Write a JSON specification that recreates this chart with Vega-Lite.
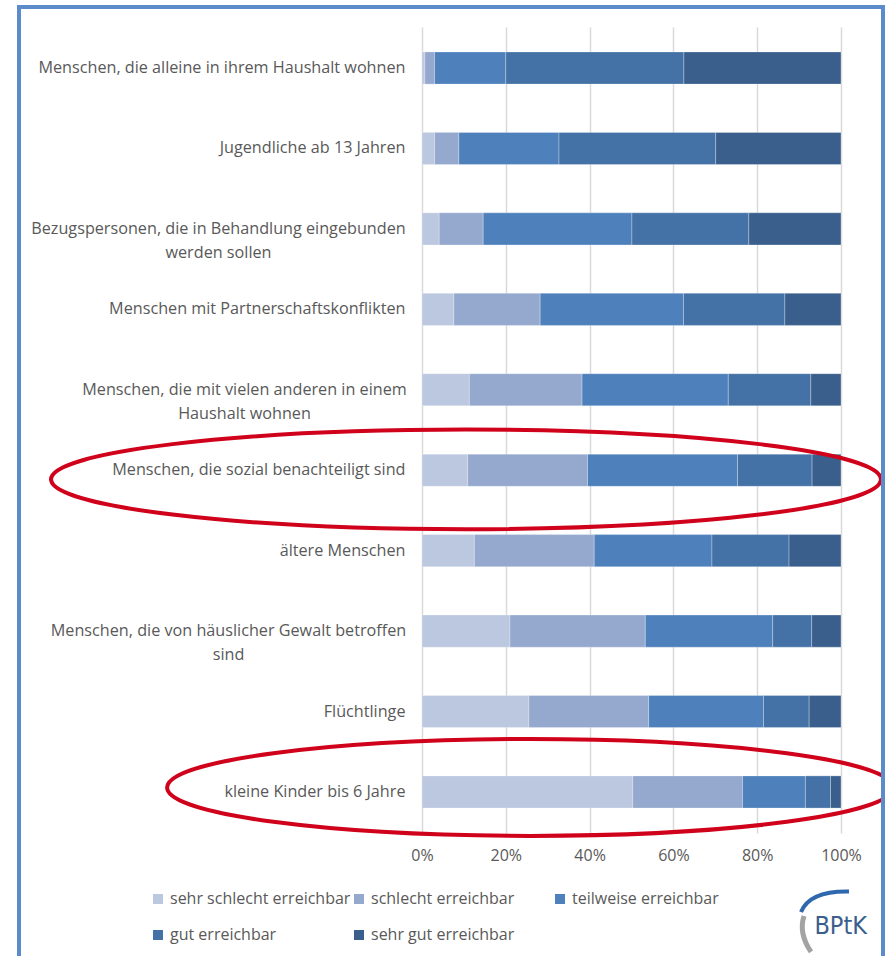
{
  "$schema": "https://vega.github.io/schema/vega-lite/v6.json",
  "width": 419,
  "height": 806,
  "autosize": {"type": "none"},
  "padding": {"left": 422, "right": 44, "top": 27, "bottom": 123},
  "background": "#ffffff",
  "config": {
    "view": {"stroke": null},
    "font": "Open Sans",
    "axis": {"gridColor": "#D9D9D9", "gridWidth": 1.5, "labelColor": "#595959", "labelFont": "Open Sans"}
  },
  "datasets": {
    "werte": [
      {"g": "Menschen, die alleine in ihrem Haushalt wohnen", "s": "sehr schlecht erreichbar", "n": 1, "v": 0.7},
      {"g": "Menschen, die alleine in ihrem Haushalt wohnen", "s": "schlecht erreichbar", "n": 2, "v": 2.3},
      {"g": "Menschen, die alleine in ihrem Haushalt wohnen", "s": "teilweise erreichbar", "n": 3, "v": 17.0},
      {"g": "Menschen, die alleine in ihrem Haushalt wohnen", "s": "gut erreichbar", "n": 4, "v": 42.5},
      {"g": "Menschen, die alleine in ihrem Haushalt wohnen", "s": "sehr gut erreichbar", "n": 5, "v": 37.5},
      {"g": "Jugendliche ab 13 Jahren", "s": "sehr schlecht erreichbar", "n": 1, "v": 3.0},
      {"g": "Jugendliche ab 13 Jahren", "s": "schlecht erreichbar", "n": 2, "v": 5.8},
      {"g": "Jugendliche ab 13 Jahren", "s": "teilweise erreichbar", "n": 3, "v": 23.9},
      {"g": "Jugendliche ab 13 Jahren", "s": "gut erreichbar", "n": 4, "v": 37.4},
      {"g": "Jugendliche ab 13 Jahren", "s": "sehr gut erreichbar", "n": 5, "v": 29.9},
      {"g": "Bezugspersonen, die in Behandlung eingebunden werden sollen", "s": "sehr schlecht erreichbar", "n": 1, "v": 4.1},
      {"g": "Bezugspersonen, die in Behandlung eingebunden werden sollen", "s": "schlecht erreichbar", "n": 2, "v": 10.5},
      {"g": "Bezugspersonen, die in Behandlung eingebunden werden sollen", "s": "teilweise erreichbar", "n": 3, "v": 35.5},
      {"g": "Bezugspersonen, die in Behandlung eingebunden werden sollen", "s": "gut erreichbar", "n": 4, "v": 27.9},
      {"g": "Bezugspersonen, die in Behandlung eingebunden werden sollen", "s": "sehr gut erreichbar", "n": 5, "v": 22.0},
      {"g": "Menschen mit Partnerschaftskonflikten", "s": "sehr schlecht erreichbar", "n": 1, "v": 7.6},
      {"g": "Menschen mit Partnerschaftskonflikten", "s": "schlecht erreichbar", "n": 2, "v": 20.6},
      {"g": "Menschen mit Partnerschaftskonflikten", "s": "teilweise erreichbar", "n": 3, "v": 34.2},
      {"g": "Menschen mit Partnerschaftskonflikten", "s": "gut erreichbar", "n": 4, "v": 24.2},
      {"g": "Menschen mit Partnerschaftskonflikten", "s": "sehr gut erreichbar", "n": 5, "v": 13.4},
      {"g": "Menschen, die mit vielen anderen in einem Haushalt wohnen", "s": "sehr schlecht erreichbar", "n": 1, "v": 11.3},
      {"g": "Menschen, die mit vielen anderen in einem Haushalt wohnen", "s": "schlecht erreichbar", "n": 2, "v": 26.9},
      {"g": "Menschen, die mit vielen anderen in einem Haushalt wohnen", "s": "teilweise erreichbar", "n": 3, "v": 34.9},
      {"g": "Menschen, die mit vielen anderen in einem Haushalt wohnen", "s": "gut erreichbar", "n": 4, "v": 19.7},
      {"g": "Menschen, die mit vielen anderen in einem Haushalt wohnen", "s": "sehr gut erreichbar", "n": 5, "v": 7.2},
      {"g": "Menschen, die sozial benachteiligt sind", "s": "sehr schlecht erreichbar", "n": 1, "v": 10.9},
      {"g": "Menschen, die sozial benachteiligt sind", "s": "schlecht erreichbar", "n": 2, "v": 28.6},
      {"g": "Menschen, die sozial benachteiligt sind", "s": "teilweise erreichbar", "n": 3, "v": 35.8},
      {"g": "Menschen, die sozial benachteiligt sind", "s": "gut erreichbar", "n": 4, "v": 17.8},
      {"g": "Menschen, die sozial benachteiligt sind", "s": "sehr gut erreichbar", "n": 5, "v": 6.9},
      {"g": "ältere Menschen", "s": "sehr schlecht erreichbar", "n": 1, "v": 12.5},
      {"g": "ältere Menschen", "s": "schlecht erreichbar", "n": 2, "v": 28.6},
      {"g": "ältere Menschen", "s": "teilweise erreichbar", "n": 3, "v": 28.1},
      {"g": "ältere Menschen", "s": "gut erreichbar", "n": 4, "v": 18.4},
      {"g": "ältere Menschen", "s": "sehr gut erreichbar", "n": 5, "v": 12.4},
      {"g": "Menschen, die von häuslicher Gewalt betroffen sind", "s": "sehr schlecht erreichbar", "n": 1, "v": 21.0},
      {"g": "Menschen, die von häuslicher Gewalt betroffen sind", "s": "schlecht erreichbar", "n": 2, "v": 32.3},
      {"g": "Menschen, die von häuslicher Gewalt betroffen sind", "s": "teilweise erreichbar", "n": 3, "v": 30.4},
      {"g": "Menschen, die von häuslicher Gewalt betroffen sind", "s": "gut erreichbar", "n": 4, "v": 9.3},
      {"g": "Menschen, die von häuslicher Gewalt betroffen sind", "s": "sehr gut erreichbar", "n": 5, "v": 7.0},
      {"g": "Flüchtlinge", "s": "sehr schlecht erreichbar", "n": 1, "v": 25.5},
      {"g": "Flüchtlinge", "s": "schlecht erreichbar", "n": 2, "v": 28.6},
      {"g": "Flüchtlinge", "s": "teilweise erreichbar", "n": 3, "v": 27.4},
      {"g": "Flüchtlinge", "s": "gut erreichbar", "n": 4, "v": 10.9},
      {"g": "Flüchtlinge", "s": "sehr gut erreichbar", "n": 5, "v": 7.6},
      {"g": "kleine Kinder bis 6 Jahre", "s": "sehr schlecht erreichbar", "n": 1, "v": 50.3},
      {"g": "kleine Kinder bis 6 Jahre", "s": "schlecht erreichbar", "n": 2, "v": 26.2},
      {"g": "kleine Kinder bis 6 Jahre", "s": "teilweise erreichbar", "n": 3, "v": 15.0},
      {"g": "kleine Kinder bis 6 Jahre", "s": "gut erreichbar", "n": 4, "v": 6.0},
      {"g": "kleine Kinder bis 6 Jahre", "s": "sehr gut erreichbar", "n": 5, "v": 2.5}
    ]
  },
  "layer": [
    {
      "data": {"name": "werte"},
      "mark": {"type": "bar", "stroke": "#ffffff", "strokeOpacity": 0.35, "strokeWidth": 0.8},
      "encoding": {
        "y": {
          "field": "g", "type": "nominal", "sort": null, "title": null,
          "scale": {
            "domain": ["Menschen, die alleine in ihrem Haushalt wohnen", "Jugendliche ab 13 Jahren", "Bezugspersonen, die in Behandlung eingebunden werden sollen", "Menschen mit Partnerschaftskonflikten", "Menschen, die mit vielen anderen in einem Haushalt wohnen", "Menschen, die sozial benachteiligt sind", "ältere Menschen", "Menschen, die von häuslicher Gewalt betroffen sind", "Flüchtlinge", "kleine Kinder bis 6 Jahre"],
            "paddingInner": 0.6, "paddingOuter": 0.31
          },
          "axis": {
            "ticks": false, "domain": false, "labelFontSize": 16.2, "labelLimit": 600, "labelLineHeight": 24,
            "labelAlign": {
              "condition": {"test": "indexof(['Bezugspersonen, die in Behandlung eingebunden werden sollen', 'Menschen, die mit vielen anderen in einem Haushalt wohnen', 'Menschen, die von häuslicher Gewalt betroffen sind'], datum.value) >= 0", "value": "center"},
              "value": "right"
            },
            "labelPadding": {
              "condition": [
                {"test": "datum.value == 'Bezugspersonen, die in Behandlung eingebunden werden sollen'", "value": 204},
                {"test": "datum.value == 'Menschen, die mit vielen anderen in einem Haushalt wohnen'", "value": 178},
                {"test": "datum.value == 'Menschen, die von häuslicher Gewalt betroffen sind'", "value": 194}
              ],
              "value": 17
            },
            "labelExpr": "datum.label == 'Bezugspersonen, die in Behandlung eingebunden werden sollen' ? ['Bezugspersonen, die in Behandlung eingebunden', 'werden sollen'] : datum.label == 'Menschen, die mit vielen anderen in einem Haushalt wohnen' ? ['Menschen, die mit vielen anderen in einem', 'Haushalt wohnen'] : datum.label == 'Menschen, die von häuslicher Gewalt betroffen sind' ? ['Menschen, die von häuslicher Gewalt betroffen', 'sind'] : datum.label"
          }
        },
        "x": {
          "field": "v", "type": "quantitative", "stack": "normalize", "title": null,
          "scale": {"domain": [0, 1]},
          "axis": {"values": [0, 0.2, 0.4, 0.6, 0.8, 1], "format": ".0%", "ticks": false, "domain": false, "labelPadding": 14, "labelFontSize": 16, "labelFlush": false, "grid": true}
        },
        "order": {"field": "n", "type": "quantitative", "sort": "ascending"},
        "color": {
          "field": "s", "type": "nominal", "title": null,
          "scale": {
            "domain": ["sehr schlecht erreichbar", "schlecht erreichbar", "teilweise erreichbar", "gut erreichbar", "sehr gut erreichbar"],
            "range": ["#BCC8E0", "#95A8CE", "#4E81BC", "#4472A6", "#3A5F8C"]
          },
          "legend": {
            "orient": "none", "legendX": -272, "legendY": 864, "direction": "horizontal", "columns": 3, "gridAlign": "all",
            "columnPadding": 0, "rowPadding": 20, "symbolType": "square", "symbolSize": 100, "symbolStrokeWidth": 0,
            "labelFont": "Open Sans", "labelFontSize": 16, "labelColor": "#595959", "labelOffset": 4, "padding": 0, "labelLimit": 400
          }
        }
      }
    },
    {
      "data": {"values": [{"markiert": "Menschen, die sozial benachteiligt sind"}]},
      "mark": {"type": "point", "filled": false, "stroke": "#D0021B", "strokeWidth": 4, "opacity": 1, "size": 688900,
        "shape": "M-1,0.022C-1,-0.0443,-0.5523,-0.098,0,-0.098C0.5523,-0.098,1,-0.0443,1,0.022C1,0.0883,0.5523,0.142,0,0.142C-0.5523,0.142,-1,0.0883,-1,0.022Z"},
      "encoding": {
        "x": {"datum": 0.105, "type": "quantitative", "title": null},
        "y": {"field": "markiert", "type": "nominal", "title": null}
      }
    },
    {
      "data": {"values": [{"markiert": "kleine Kinder bis 6 Jahre"}]},
      "mark": {"type": "point", "filled": false, "stroke": "#D0021B", "strokeWidth": 4, "opacity": 1, "size": 527076,
        "shape": "M-1,-0.012C-1,-0.086,-0.5523,-0.146,0,-0.146C0.5523,-0.146,1,-0.086,1,-0.012C1,0.062,0.5523,0.121,0,0.121C-0.5523,0.121,-1,0.062,-1,-0.012Z"},
      "encoding": {
        "x": {"datum": 0.258, "type": "quantitative", "title": null},
        "y": {"field": "markiert", "type": "nominal", "title": null}
      }
    },
    {
      "data": {"values": [{"rahmen": "Menschen, die alleine in ihrem Haushalt wohnen"}]},
      "mark": {"type": "point", "filled": false, "stroke": "#5B8BCB", "strokeWidth": 4, "opacity": 1, "size": 40000,
        "shape": "M-4.03,9.2L-4.03,-0.61L4.61,-0.61L4.61,9.2"},
      "encoding": {
        "x": {"datum": 0, "type": "quantitative", "title": null},
        "y": {"field": "rahmen", "type": "nominal", "title": null}
      }
    },
    {
      "data": {"values": [{"logo": "kleine Kinder bis 6 Jahre"}]},
      "mark": {"type": "point", "filled": false, "stroke": "#2F68AE", "strokeWidth": 4, "opacity": 1, "size": 40000,
        "shape": "M-0.40,1.20C-0.34,1.05,-0.18,0.99,0.08,0.995"},
      "encoding": {
        "x": {"datum": 1, "type": "quantitative", "title": null},
        "y": {"field": "logo", "type": "nominal", "title": null}
      }
    },
    {
      "data": {"values": [{"logo": "kleine Kinder bis 6 Jahre"}]},
      "mark": {"type": "point", "filled": false, "stroke": "#A3A3A3", "strokeWidth": 5, "opacity": 1, "size": 40000,
        "shape": "M-0.37,1.24C-0.41,1.36,-0.38,1.48,-0.30,1.60"},
      "encoding": {
        "x": {"datum": 1, "type": "quantitative", "title": null},
        "y": {"field": "logo", "type": "nominal", "title": null}
      }
    },
    {
      "data": {"values": [{"logo": "kleine Kinder bis 6 Jahre", "name": "BPtK"}]},
      "mark": {"type": "text", "align": "right", "baseline": "alphabetic", "dx": 26, "dy": 142, "font": "'Liberation Sans Narrow', 'DejaVu Sans Condensed', 'Liberation Sans', sans-serif", "fontSize": 25, "color": "#3A5F8D"},
      "encoding": {
        "x": {"datum": 1, "type": "quantitative", "title": null},
        "y": {"field": "logo", "type": "nominal", "title": null},
        "text": {"field": "name"}
      }
    }
  ]
}
